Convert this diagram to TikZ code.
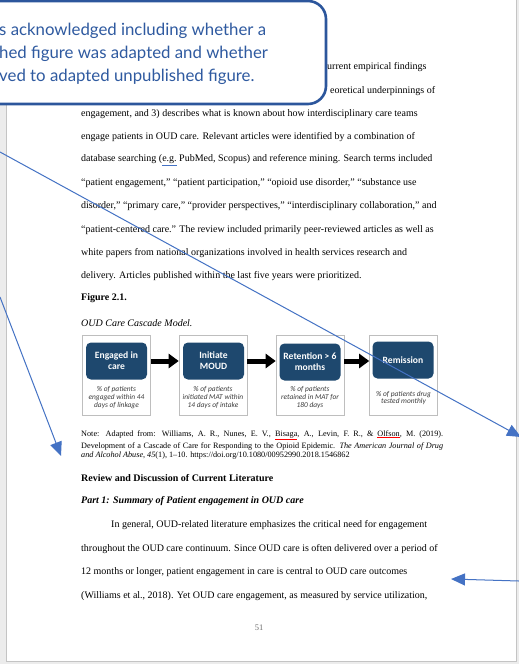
\documentclass[tikz,border=0pt]{standalone}
\usepackage{fontspec}
\setmainfont{Liberation Serif}
\newfontfamily\callfont{Lato}
\newfontfamily\figfont{Carlito}
\usetikzlibrary{arrows.meta}
\definecolor{navy}{RGB}{30,72,110}
\definecolor{callblue}{RGB}{44,86,156}
\definecolor{calltext}{RGB}{47,90,160}
\definecolor{annblue}{RGB}{68,114,196}
\definecolor{pagegray}{RGB}{196,196,196}
\definecolor{edgegray}{RGB}{236,236,236}
\definecolor{boxgray}{RGB}{190,190,190}
\definecolor{subgray}{RGB}{60,60,60}
\definecolor{numgray}{RGB}{110,110,110}
\newcommand\spellred[1]{\textcolor{red}{$\underline{\hbox{\textcolor{black}{#1}}}$}}
\newcommand\spellblue[1]{\textcolor{annblue}{$\underline{\hbox{\textcolor{black}{#1}}}$}}
\begin{document}
\begin{tikzpicture}[x=1pt,y=-1pt,
  body/.style={anchor=west,inner sep=0pt,font=\fontsize{10}{11}\selectfont},
  notetext/.style={anchor=west,inner sep=0pt,font=\fontsize{8.2}{9}\selectfont},
  calltxt/.style={anchor=west,inner sep=0pt,text=calltext,font=\callfont\fontsize{16.8}{20}\selectfont},
  outerbox/.style={draw=boxgray,line width=0.6pt,fill=white,minimum width=68pt,minimum height=80pt,inner sep=0pt},
  innerbox/.style={fill=navy,rounded corners=5pt,minimum width=61pt,minimum height=37pt,inner sep=0pt,text=white,align=center,font=\figfont\bfseries\fontsize{9.6}{11.2}\selectfont},
  subtext/.style={align=center,inner sep=0pt,text=subgray,font=\figfont\itshape\fontsize{7.4}{7.8}\selectfont},
  figarrow/.style={line width=5pt,-{Triangle[length=10pt,width=14pt]}},
  annarrow/.style={annblue,line width=1pt,-{Triangle[length=14pt,width=12pt]}}
]
\useasboundingbox (0,0) rectangle (519,664);
\clip (0,0) rectangle (519,664);
% page background and window edges
\fill[white] (0,0) rectangle (519,664);
\fill[edgegray] (0,0) rectangle (6,664);
\fill[edgegray] (517,0) rectangle (519,664);
\fill[edgegray] (0,662) rectangle (519,664);
\draw[pagegray,line width=0.8pt] (6.5,0) -- (6.5,661.5) -- (516.5,661.5) -- (516.5,0);

% body text
\node[body] (t1) at (327,67) {urrent empirical findings};
\node[body] (t2) at (330,91) {eoretical underpinnings of};
\node[body] (t3) at (81,114) {engagement, and 3) describes what is known about how interdisciplinary care teams};
\node[body] (t4) at (81,137) {engage patients in OUD care. Relevant articles were identified by a combination of};
\node[body] (t5) at (81,160) {database searching (\spellblue{e.g.} PubMed, Scopus) and reference mining. Search terms included};
\node[body] (t6) at (81,183) {“patient engagement,” “patient participation,” “opioid use disorder,” “substance use};
\node[body] (t7) at (81,206) {disorder,” “primary care,” “provider perspectives,” “interdisciplinary collaboration,” and};
\node[body] (t8) at (81,230) {“patient-centered care.” The review included primarily peer-reviewed articles as well as};
\node[body] (t9) at (81,253) {white papers from national organizations involved in health services research and};
\node[body] (t10) at (81,276) {delivery. Articles published within the last five years were prioritized.};
\node[body] (t11) at (81,298) {\textbf{Figure 2.1.}};
\node[body] (t12) at (81,323) {\textit{OUD Care Cascade Model.}};

% figure
\node[outerbox] (o1) at (116.5,375) {};
\node[outerbox] (o2) at (213,375) {};
\node[outerbox] (o3) at (310,375) {};
\node[outerbox] (o4) at (403.5,375) {};
\node[innerbox] (i1) at (116.5,361) {Engaged in\\care};
\node[innerbox] (i2) at (213.5,361) {Initiate\\MOUD};
\node[innerbox] (i3) at (310,362) {Retention > 6\\months};
\node[innerbox] (i4) at (403,360) {Remission};
\node[subtext] (s1) at (116.5,397.5) {\% of patients\\engaged within 44\\days of linkage};
\node[subtext] (s2) at (213,397.5) {\% of patients\\initiated MAT within\\14 days of intake};
\node[subtext] (s3) at (310,397.5) {\% of patients\\retained in MAT for\\180 days};
\node[subtext] (s4) at (403.5,398) {\% of patients drug\\tested monthly};
\draw[figarrow] (o1.east |- i1) -- (o2.west |- i1);
\draw[figarrow] (o2.east |- i1) -- (o3.west |- i1);
\draw[figarrow] (o3.east |- i1) -- (o4.west |- i1);

% note
\node[notetext] (n1) at (81,435) {\makebox[362pt][s]{Note: Adapted from: Williams, A. R., Nunes, E. V., \spellred{Bisaga}, A., Levin, F. R., \& \spellred{Olfson}, M. (2019).}};
\node[notetext] (n2) at (81,446) {\makebox[362pt][s]{Development of a Cascade of Care for Responding to the Opioid Epidemic. \textit{The American Journal of Drug}}};
\node[notetext] (n3) at (81,456) {\textit{and Alcohol Abuse}, \textit{45}(1), 1–10. https://doi.org/10.1080/00952990.2018.1546862};

\node[body] (h1) at (81,478) {\textbf{Review and Discussion of Current Literature}};
\node[body] (h2) at (81,501) {\textbf{\textit{Part 1: Summary of Patient engagement in OUD care}}};
\node[body] (p1) at (111,525) {In general, OUD-related literature emphasizes the critical need for engagement};
\node[body] (p2) at (81,549) {throughout the OUD care continuum. Since OUD care is often delivered over a period of};
\node[body] (p3) at (81,572) {12 months or longer, patient engagement in care is central to OUD care outcomes};
\node[body] (p4) at (81,596) {(Williams et al., 2018). Yet OUD care engagement, as measured by service utilization,};
\node[inner sep=0pt,text=numgray,font=\fontsize{8.5}{9}\selectfont] (pg) at (259,628) {51};

% callout
\draw[callblue,line width=2.6pt,fill=white,rounded corners=18pt] (-30,1) rectangle (326,104);
\node[calltxt] (c1) at (-1,31) {s acknowledged including whether a};
\node[calltxt] (c2) at (-1,54) {hed figure was adapted and whether};
\node[calltxt] (c3) at (-1,77) {ved to adapted unpublished figure.};

% annotation arrows
\coordinate (aS) at (0,152);
\coordinate (aE) at (521,437);
\coordinate (bS) at (0,297);
\coordinate (bE) at (61,456);
\coordinate (cS) at (519,581);
\coordinate (cE) at (451,579);
\draw[annarrow] (aS) -- (aE);
\draw[annarrow] (bS) -- (bE);
\draw[annarrow] (cS) -- (cE);
\end{tikzpicture}
\end{document}
